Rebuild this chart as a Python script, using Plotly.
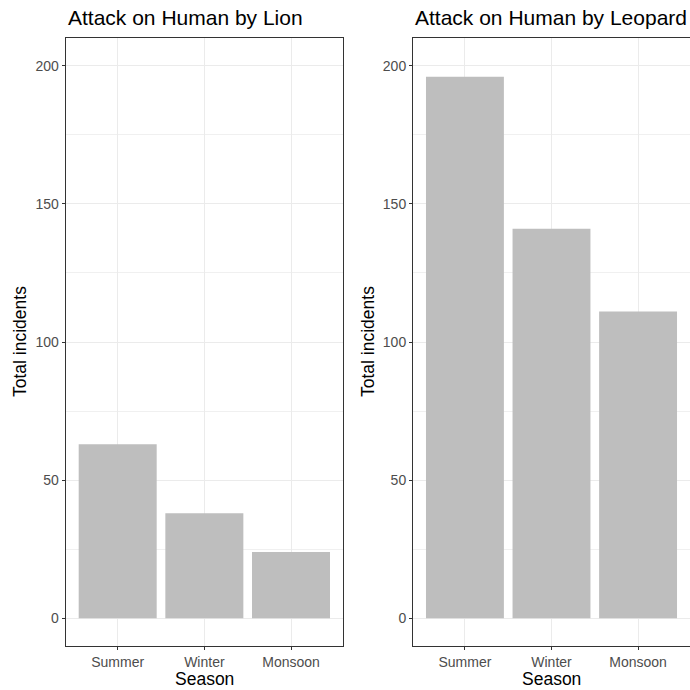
import plotly.graph_objects as go

seasons = ["Summer", "Winter", "Monsoon"]
lion_incidents = [63, 38, 24]
leopard_incidents = [196, 141, 111]
titles = ["Attack on Human by Lion", "Attack on Human by Leopard"]
y_ticks = [0, 50, 100, 150, 200]

W = H = 690
FONT = "Liberation Sans, Arial, sans-serif"

def px_x(v):
    return v / W

def px_y(v):
    return 1 - v / H

left_dom = [px_x(65.7), px_x(343)]
right_dom = [px_x(413), 1.0]
y_dom = [px_y(646), px_y(38)]

fig = go.Figure()
fig.add_trace(go.Bar(x=seasons, y=lion_incidents, marker_color="#BEBEBE",
                     marker_line_width=0, width=0.9, xaxis="x", yaxis="y",
                     showlegend=False))
fig.add_trace(go.Bar(x=seasons, y=leopard_incidents, marker_color="#BEBEBE",
                     marker_line_width=0, width=0.9, xaxis="x2", yaxis="y2",
                     showlegend=False))

xax = dict(type="category", categoryorder="array", categoryarray=seasons,
           range=[-0.6, 2.6], showgrid=True, gridcolor="#EBEBEB", gridwidth=1,
           showline=True, linecolor="#333333", linewidth=1, mirror=True,
           ticks="outside", ticklen=3, tickcolor="#333333", tickwidth=1,
           tickfont=dict(family=FONT, size=14, color="#4D4D4D"),
           zeroline=False, fixedrange=True)
yax = dict(range=[-10, 210], tickvals=y_ticks, showgrid=True,
           gridcolor="#EBEBEB", gridwidth=1,
           minor=dict(tickvals=[25, 75, 125, 175], showgrid=True,
                      gridcolor="#F0F0F0", gridwidth=0.7, ticks=""),
           showline=True, linecolor="#333333", linewidth=1, mirror=True,
           ticks="outside", ticklen=3, tickcolor="#333333", tickwidth=1,
           tickfont=dict(family=FONT, size=14, color="#4D4D4D"),
           zeroline=False, fixedrange=True)

fig.update_layout(
    width=W, height=H, autosize=False,
    margin=dict(l=0, r=0, t=0, b=0),
    paper_bgcolor="white", plot_bgcolor="white",
    bargap=0.1,
    xaxis=dict(xax, domain=left_dom, anchor="y"),
    yaxis=dict(yax, domain=y_dom, anchor="x"),
    xaxis2=dict(xax, domain=right_dom, anchor="y2"),
    yaxis2=dict(yax, domain=y_dom, anchor="x2", mirror=False),
)

annotations = []
for dom, title in zip([left_dom, right_dom], titles):
    annotations.append(dict(text=title, x=dom[0], y=px_y(18), xref="paper",
                            yref="paper", xanchor="left", yanchor="middle",
                            showarrow=False,
                            font=dict(family=FONT, size=21, color="black")))
    annotations.append(dict(text="Season", x=(dom[0] + dom[1]) / 2,
                            y=px_y(679), xref="paper", yref="paper",
                            xanchor="center", yanchor="middle", showarrow=False,
                            font=dict(family=FONT, size=17.5, color="black")))
for xc in [px_x(20), px_x(368)]:
    annotations.append(dict(text="Total incidents", x=xc, y=(y_dom[0] + y_dom[1]) / 2,
                            xref="paper", yref="paper", xanchor="center",
                            yanchor="middle", textangle=-90, showarrow=False,
                            font=dict(family=FONT, size=17.5, color="black")))
fig.update_layout(annotations=annotations)

fig.write_html(
    "out.html",
    config={"displayModeBar": False},
    post_script="document.body.style.margin='0';document.body.style.overflow='hidden';",
)
